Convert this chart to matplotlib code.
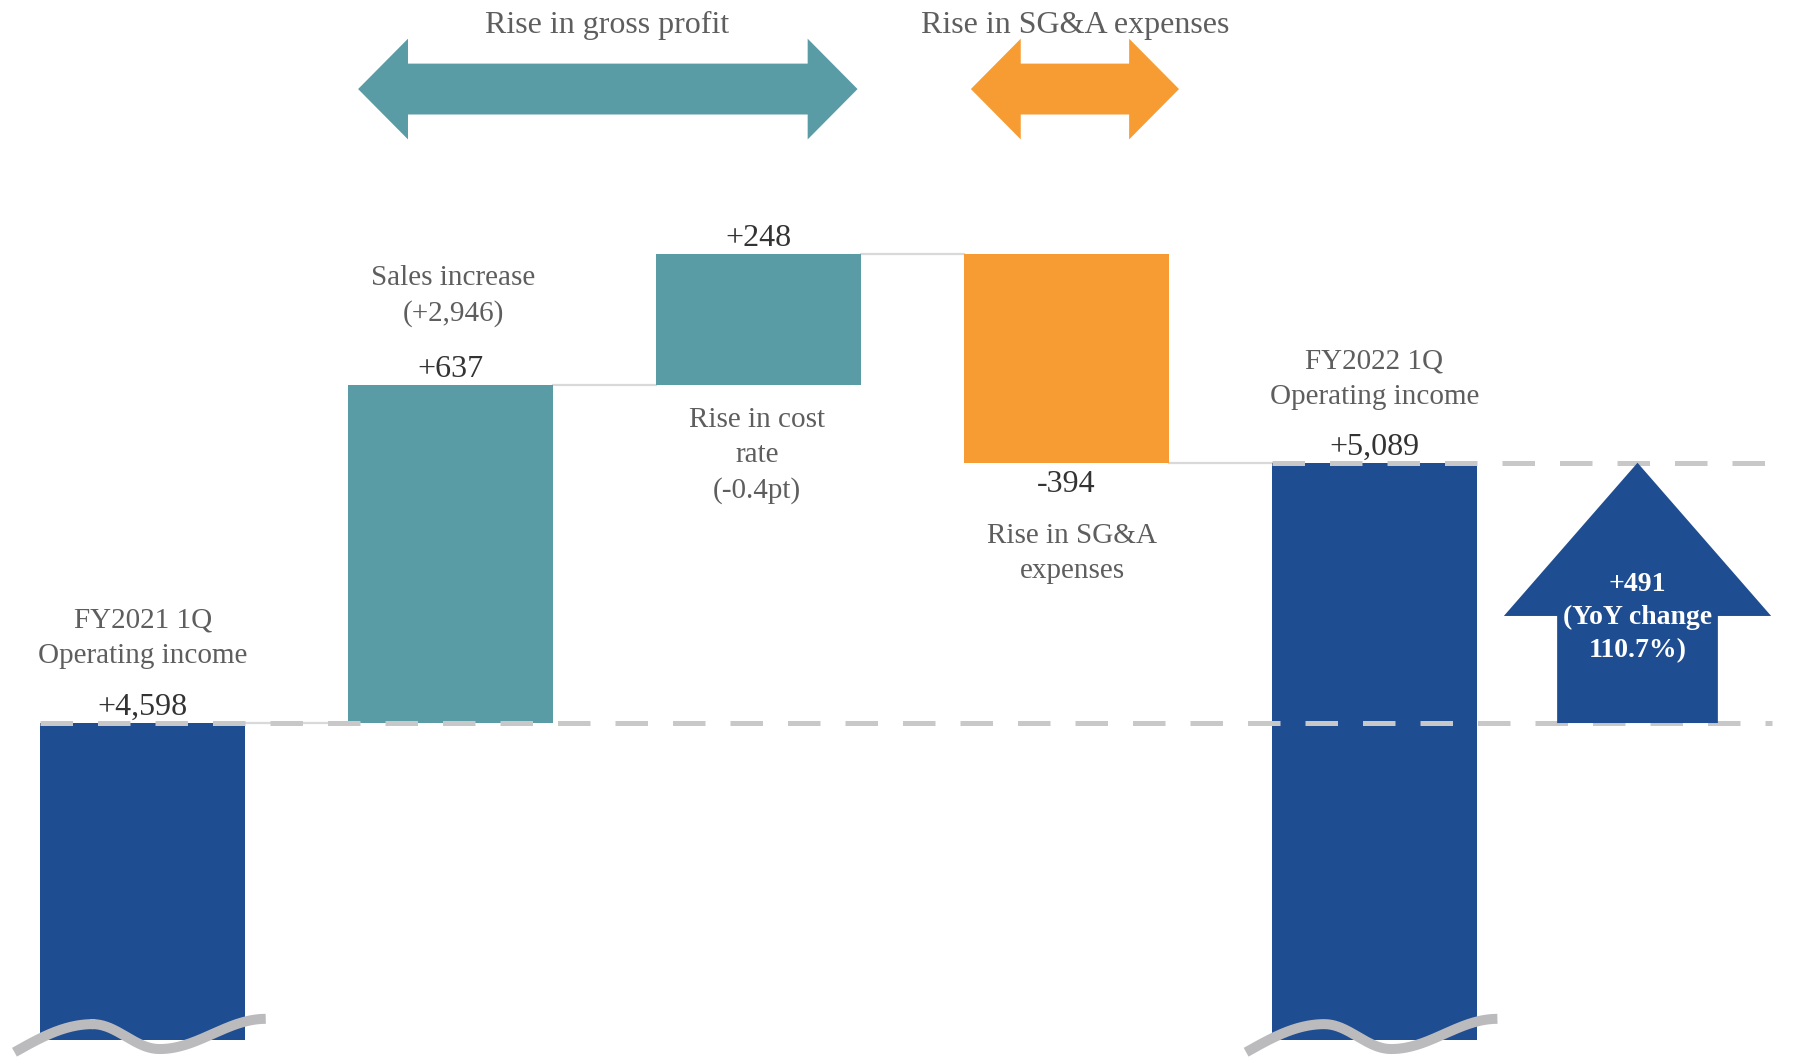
import numpy as np
import matplotlib
matplotlib.use("Agg")
import matplotlib.pyplot as plt
from matplotlib.patches import Polygon

# --- data -------------------------------------------------------------------
categories = [
    "FY2021 1Q\nOperating income",
    "Sales increase\n(+2,946)",
    "Rise in cost\nrate\n(-0.4pt)",
    "Rise in SG&A\nexpenses",
    "FY2022 1Q\nOperating income",
]
start_value = 4598
deltas = [637, 248, -394]
end_value = 5089
value_labels = ["+4,598", "+637", "+248", "-394", "+5,089"]
yoy_label = "+491\n(YoY change\n110.7%)"
group_titles = ["Rise in gross profit", "Rise in SG&A expenses"]

AXIS_FLOOR = 4000  # broken axis: totals are cut here

C_NAVY = "#1E4D91"
C_TEAL = "#599CA6"
C_ORANGE = "#F79C33"
C_LABEL = "#5E5E5E"
C_VALUE = "#333333"
C_DASH = "#C8C8C8"
C_WAVE = "#BBBBBE"
C_CONN = "#D9D9D9"

SERIF = ["Liberation Serif", "DejaVu Serif"]

fig = plt.figure(figsize=(17.93, 10.57), dpi=100)
ax = fig.add_axes([0, 0, 1, 1])
ax.set_xlim(-0.463, 5.36)
ax.set_ylim(3968, 5962)
ax.axis("off")

# --- waterfall bars ----------------------------------------------------------
x = np.arange(len(categories))
levels = np.cumsum([start_value] + deltas)          # running totals
bottoms = [AXIS_FLOOR] + [min(levels[i], levels[i + 1]) for i in range(3)] + [AXIS_FLOOR]
heights = [start_value - AXIS_FLOOR] + [abs(d) for d in deltas] + [end_value - AXIS_FLOOR]
colors = [C_NAVY, C_TEAL, C_TEAL, C_ORANGE, C_NAVY]
w = 0.666
ax.bar(x, heights, bottom=bottoms, width=w, color=colors, zorder=2)

# connectors between consecutive bars
for i, lv in enumerate(levels):
    ax.plot([x[i] + w / 2, x[i + 1] - w / 2], [lv, lv], color=C_CONN, lw=1.6, zorder=1)

# dashed reference lines
ax.plot([x[0] - w / 2, 5.292], [start_value, start_value], color=C_DASH, lw=3.6,
        dashes=(6.5, 5), zorder=3)
ax.plot([x[4] - w / 2, 5.334], [end_value, end_value], color=C_DASH, lw=3.6,
        dashes=(6.5, 5), zorder=3)

# --- value labels (above rising bars, below the falling one) -----------------
val_kw = dict(ha="center", va="center", fontsize=23, color=C_VALUE, family=SERIF)
tops = [start_value, levels[1], levels[2], levels[2], end_value]
for i in range(5):
    if 1 <= i <= 3 and deltas[i - 1] < 0:
        ax.text(x[i], levels[i] - 41, value_labels[i], **val_kw)
    else:
        ax.text(x[i], tops[i] + 30, value_labels[i], **val_kw)

# --- category labels -----------------------------------------------------------
lbl_kw = dict(ha="center", va="center", fontsize=21, color=C_LABEL, family=SERIF,
              linespacing=1.45)
ax.text(x[0], start_value + 160, categories[0], **lbl_kw)
ax.text(x[1] + 0.01, levels[1] + 168, categories[1], **lbl_kw)
ax.text(x[2] - 0.005, levels[1] - 133, categories[2], **lbl_kw)
ax.text(x[3] + 0.02, levels[3] - 172, categories[3], **lbl_kw)
ax.text(x[4], end_value + 158, categories[4], **lbl_kw)


# --- decorative double arrows on top ------------------------------------------
def double_arrow(x0, x1, yc, color, head_len=0.162, head_h=95, shaft_h=48):
    pts = [(x0, yc), (x0 + head_len, yc + head_h), (x0 + head_len, yc + shaft_h),
           (x1 - head_len, yc + shaft_h), (x1 - head_len, yc + head_h), (x1, yc),
           (x1 - head_len, yc - head_h), (x1 - head_len, yc - shaft_h),
           (x0 + head_len, yc - shaft_h), (x0 + head_len, yc - head_h)]
    ax.add_patch(Polygon(pts, closed=True, color=color, lw=0, zorder=2))


double_arrow(0.70, 2.322, 5794, C_TEAL)
double_arrow(2.69, 3.366, 5794, C_ORANGE)
title_kw = dict(ha="center", va="center", fontsize=23, color=C_LABEL, family=SERIF)
ax.text(1.51, 5914, group_titles[0], **title_kw)
ax.text(3.03, 5914, group_titles[1], **title_kw)

# --- YoY up arrow -----------------------------------------------------------
ux, head_hw, shaft_hw = 4.855, 0.434, 0.261
head_base = end_value - 289
up = [(ux - shaft_hw, start_value), (ux + shaft_hw, start_value), (ux + shaft_hw, head_base),
      (ux + head_hw, head_base), (ux, end_value), (ux - head_hw, head_base),
      (ux - shaft_hw, head_base)]
ax.add_patch(Polygon(up, closed=True, color=C_NAVY, lw=0, zorder=4))
ax.text(ux, 4797, yoy_label, ha="center", va="center", fontsize=20, color="white",
        fontweight="bold", family=SERIF, linespacing=1.42, zorder=5)


# --- axis break waves at bottom of total bars ---------------------------------
def wave(xc):
    kx = [xc - 0.416, xc - 0.162, xc + 0.055, xc + 0.40]
    ky = [3977, 4030, 3983, 4040]
    xs, ys = [], []
    s = np.linspace(0, 1, 60)
    xs.append(kx[0] + (kx[1] - kx[0]) * s)
    ys.append(ky[0] + (ky[1] - ky[0]) * np.sin(np.pi / 2 * s))
    for k in (1, 2):
        xs.append(kx[k] + (kx[k + 1] - kx[k]) * s)
        ys.append(ky[k] + (ky[k + 1] - ky[k]) * (1 - np.cos(np.pi * s)) / 2)
    ax.plot(np.concatenate(xs), np.concatenate(ys), color=C_WAVE, lw=7.2,
            solid_capstyle="butt", zorder=6)


wave(x[0])
wave(x[4])

fig.savefig("out.png", dpi=100)
